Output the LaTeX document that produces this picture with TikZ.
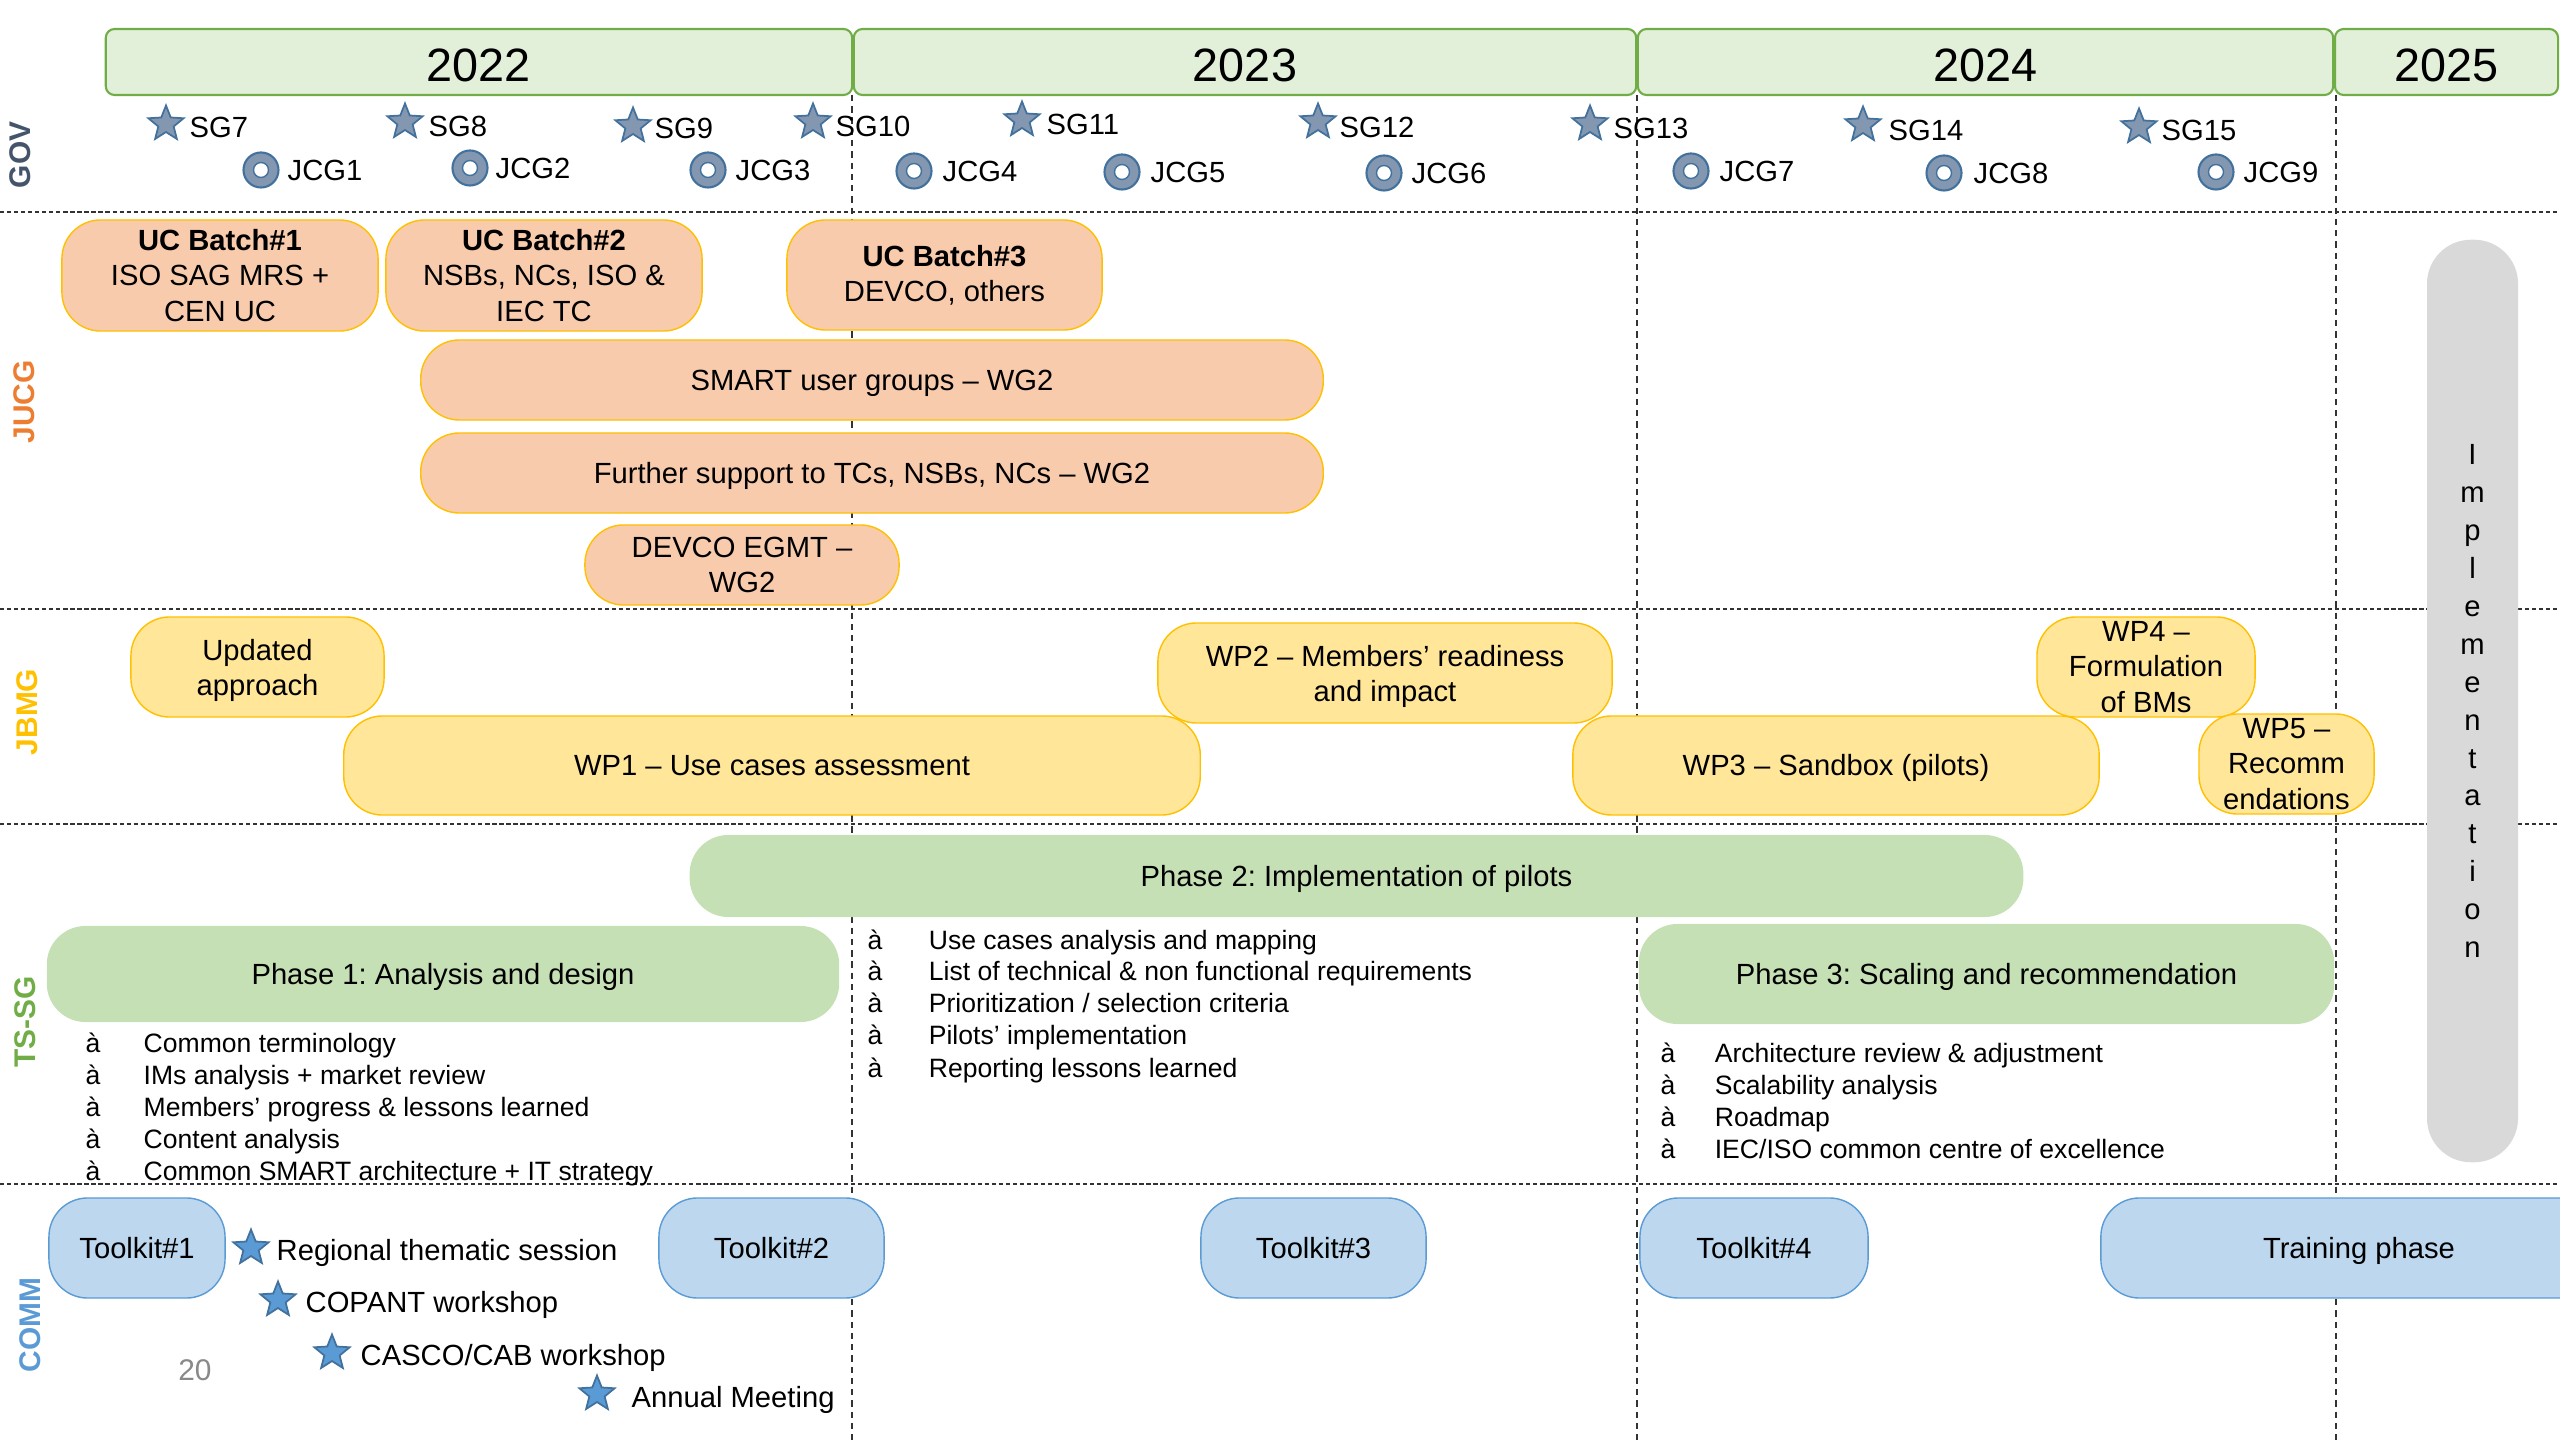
\documentclass[tikz,border=0pt]{standalone}
\usepackage{xcolor}
\usepackage{tikz}
\usepackage{fontspec}
\setmainfont{Liberation Sans}
\usetikzlibrary{shapes.geometric}
\frenchspacing

\definecolor{yrfill}{HTML}{E2F0D9}
\definecolor{yredge}{HTML}{70AD47}
\definecolor{jucgfill}{HTML}{F8CBAD}
\definecolor{goldedge}{HTML}{FFC000}
\definecolor{jbmgfill}{HTML}{FFE699}
\definecolor{tsfill}{HTML}{C5E0B4}
\definecolor{commfill}{HTML}{BDD7EE}
\definecolor{commedge}{HTML}{5B9BD5}
\definecolor{implfill}{HTML}{D9D9D9}
\definecolor{govtext}{HTML}{44546A}
\definecolor{jucgtext}{HTML}{ED7D31}
\definecolor{jbmgtext}{HTML}{FFC000}
\definecolor{tstext}{HTML}{70AD47}
\definecolor{commtext}{HTML}{5B9BD5}
\definecolor{markfill}{HTML}{8497B0}
\definecolor{markedge}{HTML}{41719C}
\definecolor{commstar}{HTML}{5B9BD5}
\definecolor{pagenum}{HTML}{898989}

\newcommand{\tsbullet}[1][16.5pt]{\makebox[#1][l]{à}}
\newcommand{\pillstrut}{\rule[-1.8pt]{0pt}{9.3pt}}
\newcommand{\topstrut}{\rule{0pt}{7.9pt}}

\begin{document}
\begin{tikzpicture}[x=0.01cm, y=-0.01cm, font=\fontsize{8.3}{10}\selectfont,
    yearbox/.style={draw=yredge, fill=yrfill, line width=0.6pt, rounded corners=2.5pt, inner sep=0pt, text height=11pt, text depth=0pt, font=\fontsize{13.3}{16}\selectfont},
    pill/.style={rounded corners=11pt, align=center, inner sep=0pt, line width=0.4pt},
    oneline/.style={execute at begin node=\pillstrut, execute at end node=\pillstrut},
    jucgpill/.style={pill, draw=goldedge, fill=jucgfill},
    jbmgpill/.style={pill, draw=goldedge, fill=jbmgfill},
    tspill/.style={pill, oneline, fill=tsfill},
    commpill/.style={pill, oneline, draw=commedge, fill=commfill},
    rowlabel/.style={rotate=90, inner sep=0pt, font=\fontsize{8.5}{10}\selectfont\bfseries},
    lbl/.style={anchor=west, inner sep=0pt, text height=6pt, text depth=0pt},
    listitem/.style={lbl, text height=5.5pt, font=\fontsize{7.55}{9}\selectfont},
    sgstar/.style={star, star points=5, star point ratio=2.3, minimum size=0.37cm, inner sep=0pt, draw=markedge, fill=markfill, line width=0.5pt},
    commmark/.style={sgstar, fill=commstar},
    jcgring/.style={circle, minimum size=0.35cm, inner sep=0pt, draw=markedge, fill=markfill, line width=0.6pt,
      path picture={\draw[markedge, fill=white, line width=0.4pt] (path picture bounding box.center) circle (0.075cm);}},
    hsep/.style={dash pattern=on 1.2pt off 0.8pt, line width=0.45pt, black!80},
    vsep/.style={dash pattern=on 1.8pt off 1.4pt, line width=0.4pt, black!80}]
    \useasboundingbox (0,0) rectangle (2560,1440);
    \clip (0,0) rectangle (2560,1440);

    \draw[hsep] (0,212) -- (2560,212);
    \draw[hsep] (0,609) -- (2560,609);
    \draw[hsep] (0,824) -- (2560,824);
    \draw[hsep] (0,1184) -- (2560,1184);
    \draw[vsep] (852,95) -- (852,1440);
    \draw[vsep] (1637,95) -- (1637,1440);
    \draw[vsep] (2336,95) -- (2336,1440);

    \node[yearbox, minimum width=7.46cm, minimum height=0.66cm] (yrA) at (479,62) {2022};
    \node[yearbox, minimum width=7.82cm, minimum height=0.66cm] (yrB) at (1245,62) {2023};
    \node[yearbox, minimum width=6.95cm, minimum height=0.66cm] (yrC) at (1985.5,62) {2024};
    \node[yearbox, minimum width=2.23cm, minimum height=0.66cm] (yrD) at (2446.5,62) {2025};

    \node[rowlabel, text=govtext] (govlbl) at (20,155) {GOV};
    \node[rowlabel, text=jucgtext] (jucglbl) at (24,402) {JUCG};
    \node[rowlabel, text=jbmgtext] (jbmglbl) at (27,712) {JBMG};
    \node[rowlabel, text=tstext] (tslbl) at (25,1022) {TS-SG};
    \node[rowlabel, text=commtext] (commlbl) at (30,1325) {COMM};

    \node[sgstar] (sgA) at (166,124) {};
    \node[lbl] (sgAlbl) at (189,127) {SG7};
    \node[sgstar] (sgB) at (405,122) {};
    \node[lbl] (sgBlbl) at (428,126) {SG8};
    \node[sgstar] (sgC) at (633,126) {};
    \node[lbl] (sgClbl) at (654,128) {SG9};
    \node[sgstar] (sgD) at (813,122) {};
    \node[lbl] (sgDlbl) at (835,126) {SG10};
    \node[sgstar] (sgE) at (1022,120) {};
    \node[lbl] (sgElbl) at (1046,124) {SG11};
    \node[sgstar] (sgF) at (1318,122) {};
    \node[lbl] (sgFlbl) at (1339,127) {SG12};
    \node[sgstar] (sgG) at (1590,124) {};
    \node[lbl] (sgGlbl) at (1613,128) {SG13};
    \node[sgstar] (sgH) at (1863,125) {};
    \node[lbl] (sgHlbl) at (1888,130) {SG14};
    \node[sgstar] (sgI) at (2139,127) {};
    \node[lbl] (sgIlbl) at (2161,130) {SG15};

    \node[jcgring] (jcgA) at (261,170) {};
    \node[lbl] (jcgAlbl) at (287,170) {JCG1};
    \node[jcgring] (jcgB) at (470,168) {};
    \node[lbl] (jcgBlbl) at (495,168) {JCG2};
    \node[jcgring] (jcgC) at (708,170) {};
    \node[lbl] (jcgClbl) at (735,170) {JCG3};
    \node[jcgring] (jcgD) at (914,171) {};
    \node[lbl] (jcgDlbl) at (942,171) {JCG4};
    \node[jcgring] (jcgE) at (1122,172) {};
    \node[lbl] (jcgElbl) at (1150,172) {JCG5};
    \node[jcgring] (jcgF) at (1384,173) {};
    \node[lbl] (jcgFlbl) at (1411,173) {JCG6};
    \node[jcgring] (jcgG) at (1691,171) {};
    \node[lbl] (jcgGlbl) at (1719,171) {JCG7};
    \node[jcgring] (jcgH) at (1944,173) {};
    \node[lbl] (jcgHlbl) at (1973,173) {JCG8};
    \node[jcgring] (jcgI) at (2216,172) {};
    \node[lbl] (jcgIlbl) at (2243,172) {JCG9};

    \node[jucgpill, minimum width=3.16cm, minimum height=1.11cm] (batchA) at (220,275.5) {\textbf{UC Batch\#1}\\ISO SAG MRS +\\CEN UC};
    \node[jucgpill, minimum width=3.16cm, minimum height=1.11cm] (batchB) at (544,275.5) {\textbf{UC Batch\#2}\\NSBs, NCs, ISO \&\\IEC TC};
    \node[jucgpill, minimum width=3.15cm, minimum height=1.10cm] (batchC) at (944.5,275) {\textbf{UC Batch\#3}\\DEVCO, others};
    \node[jucgpill, oneline, minimum width=9.02cm, minimum height=0.80cm] (usergroups) at (872,380) {SMART user groups – WG2};
    \node[jucgpill, oneline, minimum width=9.02cm, minimum height=0.80cm] (support) at (872,473) {Further support to TCs, NSBs, NCs – WG2};
    \node[jucgpill, minimum width=3.14cm, minimum height=0.80cm] (egmt) at (742,565) {DEVCO EGMT –\\WG2};

    \node[jbmgpill, minimum width=2.53cm, minimum height=1.00cm] (updated) at (257.5,667) {\topstrut Updated\\approach};
    \node[jbmgpill, oneline, minimum width=8.56cm, minimum height=0.99cm] (wpA) at (772,765.5) {WP1 – Use cases assessment};
    \node[jbmgpill, minimum width=4.54cm, minimum height=1.00cm] (wpB) at (1385,673) {\topstrut WP2 – Members’ readiness\\and impact};
    \node[jbmgpill, oneline, minimum width=5.26cm, minimum height=0.99cm] (wpC) at (1836,765.5) {WP3 – Sandbox (pilots)};
    \node[jbmgpill, minimum width=2.18cm, minimum height=1.00cm] (wpD) at (2146,667) {WP4 –\\Formulation\\of BMs};
    \node[jbmgpill, minimum width=1.75cm, minimum height=1.00cm] (wpE) at (2286.5,764) {WP5 –\\Recomm\\endations};

    \node[tspill, minimum width=13.33cm, minimum height=0.82cm] (phaseB) at (1356.5,876) {Phase 2: Implementation of pilots};
    \node[tspill, minimum width=7.92cm, minimum height=0.96cm] (phaseA) at (443,974) {Phase 1: Analysis and design};
    \node[tspill, minimum width=6.95cm, minimum height=1.00cm] (phaseC) at (1986.5,974) {Phase 3: Scaling and recommendation};

    \node[listitem] (phaseAa) at (85,1043) {\tsbullet Common terminology};
    \node[listitem] (phaseAb) at (85,1075) {\tsbullet IMs analysis + market review};
    \node[listitem] (phaseAc) at (85,1107) {\tsbullet Members’ progress \& lessons learned};
    \node[listitem] (phaseAd) at (85,1139) {\tsbullet Content analysis};
    \node[listitem] (phaseAe) at (85,1171) {\tsbullet Common SMART architecture + IT strategy};
    \node[listitem] (phaseBa) at (867,940) {\tsbullet[17.4pt]Use cases analysis and mapping};
    \node[listitem] (phaseBb) at (867,971) {\tsbullet[17.4pt]List of technical \& non functional requirements};
    \node[listitem] (phaseBc) at (867,1003) {\tsbullet[17.4pt]Prioritization / selection criteria};
    \node[listitem] (phaseBd) at (867,1035) {\tsbullet[17.4pt]Pilots’ implementation};
    \node[listitem] (phaseBe) at (867,1068) {\tsbullet[17.4pt]Reporting lessons learned};
    \node[listitem] (phaseCa) at (1660,1053) {\tsbullet[15.4pt]Architecture review \& adjustment};
    \node[listitem] (phaseCb) at (1660,1085) {\tsbullet[15.4pt]Scalability analysis};
    \node[listitem] (phaseCc) at (1660,1117) {\tsbullet[15.4pt]Roadmap};
    \node[listitem] (phaseCd) at (1660,1149) {\tsbullet[15.4pt]IEC/ISO common centre of excellence};

    \node[pill, fill=implfill, rounded corners=12.5pt, minimum width=0.91cm, minimum height=9.22cm, font=\fontsize{8.3}{10.8}\selectfont] (impl) at (2472.5,701) {I\\m\\p\\l\\e\\m\\e\\n\\t\\a\\t\\i\\o\\n};

    \node[commpill, minimum width=1.76cm, minimum height=1.00cm] (toolA) at (137,1248) {Toolkit\#1};
    \node[commpill, minimum width=2.25cm, minimum height=1.00cm] (toolB) at (771.5,1248) {Toolkit\#2};
    \node[commpill, minimum width=2.25cm, minimum height=1.00cm] (toolC) at (1313.5,1248) {Toolkit\#3};
    \node[commpill, minimum width=2.28cm, minimum height=1.00cm] (toolD) at (1754,1248) {Toolkit\#4};
    \node[commpill, minimum width=5.16cm, minimum height=1.00cm] (training) at (2359,1248) {Training phase};

    \node[commmark] (evA) at (251,1248) {};
    \node[lbl] (evAlbl) at (276,1250) {Regional thematic session};
    \node[commmark] (evB) at (278,1300) {};
    \node[lbl] (evBlbl) at (305,1302) {COPANT workshop};
    \node[commmark] (evC) at (332,1353) {};
    \node[lbl] (evClbl) at (360,1355) {CASCO/CAB workshop};
    \node[commmark] (evD) at (597,1394) {};
    \node[lbl] (evDlbl) at (631,1397) {Annual Meeting};

    \node[text=pagenum, inner sep=0pt, font=\fontsize{8.5}{10}\selectfont] (slideno) at (195,1370) {20};
  \end{tikzpicture}
\end{document}
